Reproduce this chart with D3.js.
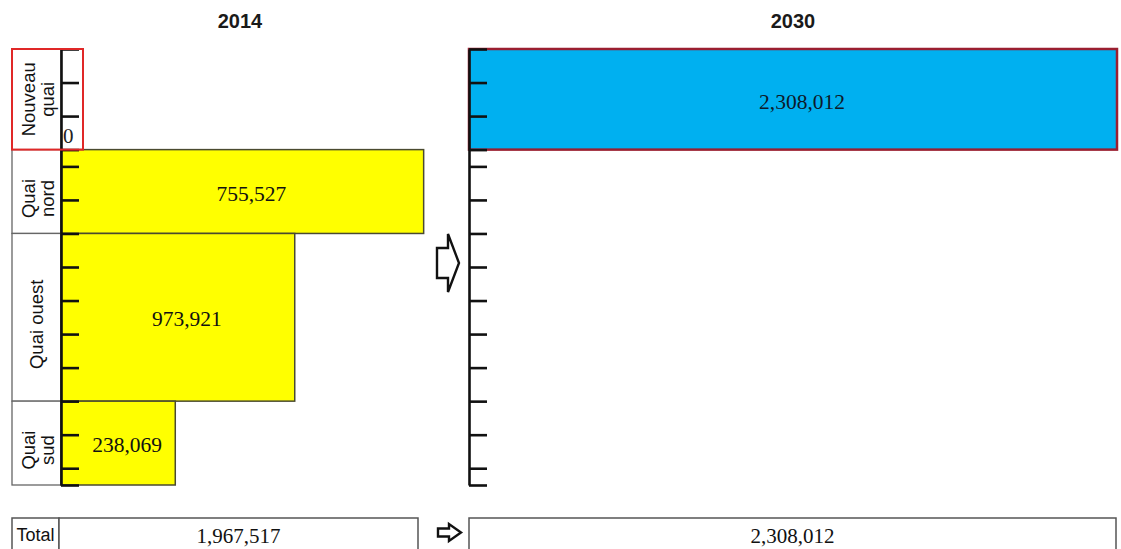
<!DOCTYPE html>
<html>
<head>
<meta charset="utf-8">
<script src="https://cdn.jsdelivr.net/npm/d3@7"></script>
<style>
  html, body { margin: 0; padding: 0; background: #fff; }
  svg { display: block; }
  .sans { font-family: "Liberation Sans", Arial, sans-serif; }
  .serif { font-family: "Liberation Serif", "Times New Roman", serif; }
</style>
</head>
<body>
<svg id="chart" width="1121" height="549"></svg>
<script>
// Quays, their berth span (in axis units) and handled volume per year
const quays = ["Nouveau quai", "Quai nord", "Quai ouest", "Quai sud"];
const quayLabelLines = [["Nouveau", "quai"], ["Quai", "nord"], ["Quai ouest"], ["Quai", "sud"]];
const berthSpan = [3, 2.5, 5, 2.5];
const volume2014 = [0, 755527, 973921, 238069];
const volume2030 = [2308012, null, null, null];
const years = ["2014", "2030"];
const axisTicks = [0, 1, 2, 3, 3.5, 4.5, 5.5, 6.5, 7.5, 8.5, 9.5, 10.5, 11.5, 12.5, 13];

const svg = d3.select("#chart");
const fmt = d3.format(",");

// Vertical scale: berth units stacked from the top
const spanTotal = d3.sum(berthSpan);
const y = d3.scaleLinear().domain([0, spanTotal]).range([49, 485]);
const starts = berthSpan.map((s, i) => d3.sum(berthSpan.slice(0, i)));
const rows = quays.map((q, i) => ({
  name: q,
  lines: quayLabelLines[i],
  y0: y(starts[i]),
  y1: y(starts[i] + berthSpan[i]),
  span: berthSpan[i],
  v2014: volume2014[i],
  v2030: volume2030[i]
}));

// Bar area carries the volume: width = volume per berth unit
const tickLen = 18;
const leftAxisX = 61, rightAxisX = 469;
const xLeft = d3.scaleLinear().domain([0, 325000]).range([leftAxisX, leftAxisX + 325000 * 0.0012]);
const dens2030 = rows.filter(r => r.v2030 != null).map(r => r.v2030 / r.span);
const xRight = d3.scaleLinear().domain([0, d3.max(dens2030)]).range([rightAxisX, 1117]);

// Year titles
svg.selectAll("text.year").data(years).join("text")
  .attr("class", "year sans")
  .attr("x", (d, i) => i === 0 ? 240 : 793)
  .attr("y", 28)
  .attr("text-anchor", "middle")
  .attr("font-size", 20)
  .attr("font-weight", "bold")
  .attr("fill", "#1a1a1a")
  .text(d => d);

// Quay name cells
const cellX0 = 12;
svg.selectAll("rect.cell").data(rows).join("rect")
  .attr("class", "cell")
  .attr("x", cellX0).attr("y", d => d.y0)
  .attr("width", leftAxisX - cellX0).attr("height", d => d.y1 - d.y0)
  .attr("fill", "#fff").attr("stroke", "#666").attr("stroke-width", 1.3);

const labelG = svg.selectAll("g.qlabel").data(rows).join("g")
  .attr("class", "qlabel sans")
  .attr("transform", (d, i) => `translate(0,${(d.y0 + d.y1) / 2 + (i === 0 ? 0 : 7)}) rotate(-90)`);
labelG.each(function(d) {
  const g = d3.select(this);
  const base = d.lines.length === 1 ? [43] : [35, 54];
  d.lines.forEach((ln, k) => {
    g.append("text")
      .attr("x", 0).attr("y", base[k])
      .attr("text-anchor", "middle")
      .attr("font-size", 18.5)
      .attr("fill", "#111")
      .text(ln);
  });
});

// 2014 bars
const bars14 = rows.filter(r => r.v2014 > 0);
svg.selectAll("rect.b14").data(bars14).join("rect")
  .attr("class", "b14")
  .attr("x", leftAxisX).attr("y", d => d.y0)
  .attr("width", d => xLeft(d.v2014 / d.span) - leftAxisX)
  .attr("height", d => d.y1 - d.y0)
  .attr("fill", "#ffff00").attr("stroke", "#4a4a30").attr("stroke-width", 1.5);

// 2030 bars
const bars30 = rows.filter(r => r.v2030 != null && r.v2030 > 0);
svg.selectAll("rect.b30").data(bars30).join("rect")
  .attr("class", "b30")
  .attr("x", rightAxisX).attr("y", d => d.y0)
  .attr("width", d => xRight(d.v2030 / d.span) - rightAxisX)
  .attr("height", d => d.y1 - d.y0)
  .attr("fill", "#00b0f0").attr("stroke", "#9a1f30").attr("stroke-width", 2.5);

// Berth axes
function drawAxis(x) {
  const g = svg.append("g")
    .attr("transform", `translate(${x},0)`)
    .call(d3.axisRight(y).tickValues(axisTicks).tickSize(tickLen).tickSizeOuter(0).tickFormat(""));
  g.select(".domain").attr("stroke", "#111").attr("stroke-width", 2.6);
  g.selectAll(".tick line").attr("stroke", "#111").attr("stroke-width", 2.6);
}
drawAxis(leftAxisX);
drawAxis(rightAxisX);

// Value labels, centred between the tick ends and the bar end
svg.selectAll("text.v14").data(bars14).join("text")
  .attr("class", "v14 serif")
  .attr("x", d => (leftAxisX + tickLen + xLeft(d.v2014 / d.span)) / 2)
  .attr("y", d => (d.y0 + d.y1) / 2 + 9)
  .attr("text-anchor", "middle").attr("font-size", 21.5).attr("fill", "#111")
  .text(d => fmt(d.v2014));

svg.selectAll("text.v30").data(bars30).join("text")
  .attr("class", "v30 serif")
  .attr("x", d => (rightAxisX + tickLen + xRight(d.v2030 / d.span)) / 2)
  .attr("y", d => (d.y0 + d.y1) / 2 + 10)
  .attr("text-anchor", "middle").attr("font-size", 21.5).attr("fill", "#0d1a2a")
  .text(d => fmt(d.v2030));

// Zero-volume quay: outlined row with its value
const zero14 = rows.filter(r => r.v2014 === 0);
svg.selectAll("rect.z14").data(zero14).join("rect")
  .attr("class", "z14")
  .attr("x", cellX0).attr("y", d => d.y0)
  .attr("width", leftAxisX + tickLen + 4 - cellX0).attr("height", d => d.y1 - d.y0)
  .attr("fill", "none").attr("stroke", "#e02828").attr("stroke-width", 2);
svg.selectAll("text.z14").data(zero14).join("text")
  .attr("class", "z14 serif")
  .attr("x", leftAxisX + 2).attr("y", d => d.y1 - 7)
  .attr("font-size", 21).attr("fill", "#222")
  .text(d => fmt(d.v2014));

// Hollow block arrows
function arrow(x0, x1, yTop, yBot, shaftTop, shaftBot, neckX) {
  const ym = (yTop + yBot) / 2;
  const p = d3.path();
  p.moveTo(x0, shaftTop);
  p.lineTo(neckX, shaftTop);
  p.lineTo(neckX, yTop);
  p.lineTo(x1, ym);
  p.lineTo(neckX, yBot);
  p.lineTo(neckX, shaftBot);
  p.lineTo(x0, shaftBot);
  p.closePath();
  svg.append("path").attr("d", p.toString())
    .attr("fill", "#fff").attr("stroke", "#111").attr("stroke-width", 2.4)
    .attr("stroke-linejoin", "miter");
}
arrow(437, 459, 234, 292, 248, 278, 448);
arrow(438, 461, 524, 541, 528.5, 536.5, 449);

// Totals row
const total2014 = d3.sum(volume2014);
const total2030 = d3.sum(volume2030.filter(v => v != null));
const totTop = 518;
const boxes = [
  { x0: cellX0, x1: 59, text: "Total", cls: "sans", size: 18 },
  { x0: 59, x1: 418, text: fmt(total2014), cls: "serif", size: 21 },
  { x0: 469, x1: 1116, text: fmt(total2030), cls: "serif", size: 21 }
];
svg.selectAll("rect.tot").data(boxes).join("rect")
  .attr("class", "tot")
  .attr("x", d => d.x0).attr("y", totTop)
  .attr("width", d => d.x1 - d.x0).attr("height", 60)
  .attr("fill", "#fff").attr("stroke", "#555").attr("stroke-width", 1.5);
svg.selectAll("text.tot").data(boxes).join("text")
  .attr("class", d => "tot " + d.cls)
  .attr("x", d => (d.x0 + d.x1) / 2)
  .attr("y", d => d.cls === "sans" ? 541 : 543)
  .attr("text-anchor", "middle")
  .attr("font-size", d => d.size).attr("fill", "#111")
  .text(d => d.text);
</script>
</body>
</html>
